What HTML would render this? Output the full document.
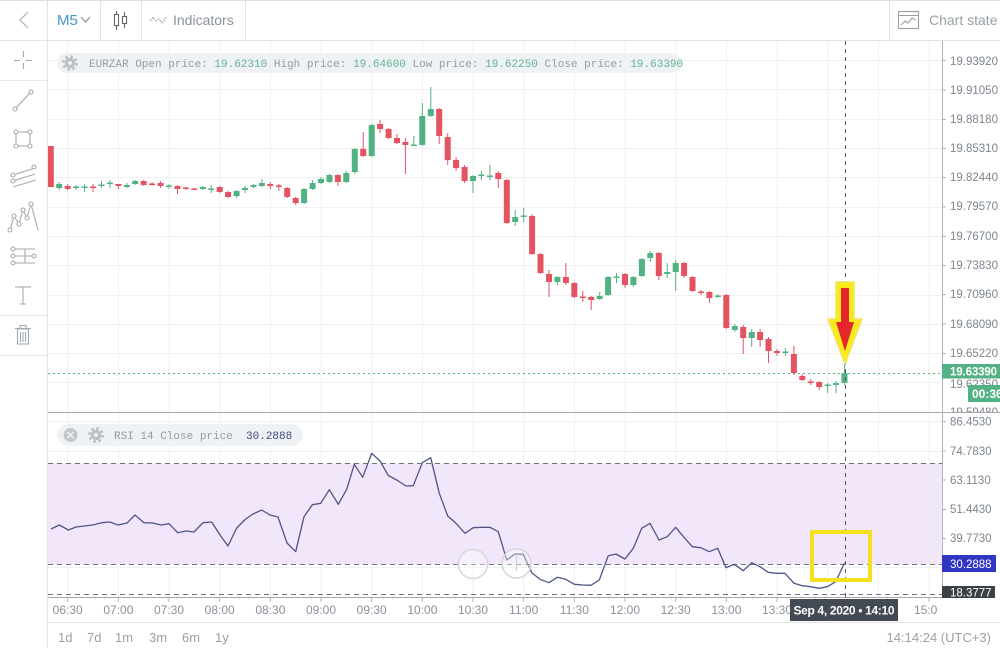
<!DOCTYPE html>
<html><head><meta charset="utf-8"><style>
html,body{margin:0;padding:0;background:#fff;width:1000px;height:648px;overflow:hidden}
svg{display:block}
text{font-family:"Liberation Sans",sans-serif}
.mono{font-family:"Liberation Mono",monospace}
</style></head><body>
<svg width="1000" height="648" viewBox="0 0 1000 648" xmlns="http://www.w3.org/2000/svg">
<defs>
<clipPath id="ca"><rect x="48" y="41" width="894" height="371"/></clipPath>
<clipPath id="cr"><rect x="48" y="413" width="894" height="184"/></clipPath>
<clipPath id="cp"><rect x="943" y="41" width="57" height="371"/></clipPath>
<clipPath id="ct"><rect x="48" y="598" width="889" height="24"/></clipPath>
</defs>
<rect width="1000" height="648" fill="#fff"/>
<!-- top bar -->
<line x1="0" y1="0.5" x2="1000" y2="0.5" stroke="#dcdfe2"/>
<line x1="0" y1="40.5" x2="1000" y2="40.5" stroke="#e1e4e7"/>
<g stroke="#e1e4e7"><line x1="47.5" y1="0" x2="47.5" y2="40"/><line x1="100.5" y1="0" x2="100.5" y2="40"/><line x1="141.5" y1="0" x2="141.5" y2="40"/><line x1="245.5" y1="0" x2="245.5" y2="40"/><line x1="889.5" y1="0" x2="889.5" y2="40"/></g>
<polyline points="28,12 20,20 28,28" fill="none" stroke="#b5babf" stroke-width="1.3"/>
<text x="57" y="25" font-size="15" fill="#3d9bc6">M5</text>
<polyline points="81,17 85.5,22 90,17" fill="none" stroke="#8a9099" stroke-width="1.2"/>
<g fill="none" stroke="#666" stroke-width="1.1"><line x1="116.5" y1="11" x2="116.5" y2="30"/><rect x="114.5" y="14.5" width="4" height="11" fill="#fff"/><line x1="124.5" y1="12" x2="124.5" y2="28"/><rect x="122.5" y="16.5" width="4" height="7" fill="#fff"/></g>
<polyline points="150,21 153,17 156,21 159,19 162,23 166,17" fill="none" stroke="#a9aeb3" stroke-width="1.2" stroke-dasharray="2 1"/>
<text x="173" y="25" font-size="14" fill="#8a9099">Indicators</text>
<g fill="none" stroke="#9aa0a6" stroke-width="1.1"><rect x="898.5" y="11.5" width="20" height="17"/><line x1="898.5" y1="15.5" x2="918.5" y2="15.5"/><polyline points="901,25 905,21 908,23 912,18 916,20"/></g>
<text x="929" y="25" font-size="14" fill="#9aa0a6">Chart state</text>
<!-- left toolbar -->
<line x1="47.5" y1="40" x2="47.5" y2="648" stroke="#e1e4e7"/>
<g stroke="#e6e8eb"><line x1="0" y1="80.5" x2="47" y2="80.5"/><line x1="0" y1="315.5" x2="47" y2="315.5"/><line x1="0" y1="355.5" x2="47" y2="355.5"/></g>
<g fill="none" stroke="#a4aab0" stroke-width="1.1">
<line x1="14" y1="60.5" x2="20" y2="60.5"/><line x1="26" y1="60.5" x2="32" y2="60.5"/><line x1="23.5" y1="51" x2="23.5" y2="57"/><line x1="23.5" y1="63" x2="23.5" y2="69"/>
<line x1="16" y1="108" x2="30" y2="93"/><circle cx="15" cy="109" r="2"/><circle cx="31" cy="92" r="2"/>
<rect x="16" y="132" width="14" height="14"/><circle cx="16" cy="132" r="2" fill="#fff"/><circle cx="30" cy="132" r="2" fill="#fff"/><circle cx="16" cy="146" r="2" fill="#fff"/><circle cx="30" cy="146" r="2" fill="#fff"/>
<line x1="13" y1="175" x2="35" y2="168"/><line x1="13" y1="181" x2="35" y2="174"/><line x1="13" y1="187" x2="36" y2="180"/><circle cx="13" cy="175" r="2" fill="#fff"/><circle cx="13" cy="181" r="2" fill="#fff"/><circle cx="34" cy="167" r="2" fill="#fff"/>
<polyline points="10,230 14,216 19,224 23,210 27,218 31,204 38,230"/><circle cx="10" cy="230" r="2" fill="#fff"/><circle cx="14" cy="216" r="2" fill="#fff"/><circle cx="19" cy="224" r="2" fill="#fff"/><circle cx="23" cy="210" r="2" fill="#fff"/><circle cx="27" cy="218" r="2" fill="#fff"/><circle cx="31" cy="204" r="2" fill="#fff"/>
<line x1="13" y1="249" x2="35" y2="249"/><line x1="13" y1="256" x2="35" y2="256"/><line x1="13" y1="263" x2="35" y2="263"/><circle cx="13" cy="249" r="2" fill="#fff"/><circle cx="13" cy="256" r="2" fill="#fff"/><circle cx="13" cy="263" r="2" fill="#fff"/><circle cx="34" cy="256" r="2" fill="#fff"/><line x1="25" y1="249" x2="25" y2="263"/>
<line x1="15" y1="287" x2="31" y2="287"/><line x1="23" y1="287" x2="23" y2="304"/><line x1="20" y1="304" x2="26" y2="304"/>
<line x1="15" y1="328.5" x2="31" y2="328.5"/><rect x="17.5" y="329" width="11" height="15"/><line x1="20.5" y1="332" x2="20.5" y2="342"/><line x1="23" y1="332" x2="23" y2="342"/><line x1="25.5" y1="332" x2="25.5" y2="342"/><rect x="20" y="325.5" width="6" height="3"/>
</g>
<!-- grid -->
<g stroke="#eef0f2" stroke-width="1">
<path d="M48 60.5H942M48 89.5H942M48 119.5H942M48 148.5H942M48 177.5H942M48 207.5H942M48 236.5H942M48 265.5H942M48 295.5H942M48 324.5H942M48 353.5H942M48 382.5H942"/>
<path d="M48 421.5H942M48 451.5H942M48 480.5H942M48 509.5H942M48 538.5H942M48 567.5H942"/>
<path d="M67.7 41V597M118.4 41V597M169 41V597M219.7 41V597M270.4 41V597M321 41V597M371.7 41V597M422.4 41V597M473 41V597M523.7 41V597M574.4 41V597M625 41V597M675.7 41V597M726.4 41V597M777 41V597M827.7 41V597M878.4 41V597M929 41V597"/>
</g>
<!-- RSI band -->
<rect x="48" y="463.5" width="894" height="101" fill="#f2e6fb"/>
<g stroke="#6f7378" stroke-dasharray="5 4" stroke-width="1"><path d="M48 463.5H942M48 564.5H942M48 594.5H942"/></g>
<!-- current price line -->
<path d="M48 373.5H942" stroke="#53b283" stroke-dasharray="2 3" stroke-width="1"/>
<!-- candles -->
<g clip-path="url(#ca)" fill="none">
<path stroke="#53b283" stroke-width="1" d="M59.2 182V190M76.1 185V190M84.6 184V192M101.5 181V188M109.9 180V188M126.8 183V188M135.2 180V185M169 184V189M202.8 186V190M211.2 185V193M236.6 190V198M245 186V193M253.5 184V188M261.9 179V187M304.1 188V204M312.6 180V190M321 177V184M329.5 174V183M346.3 171V183M354.8 148V174M371.7 124V157M413.9 136V146M422.3 103V146M430.8 87V117M473 175V193M481.4 171V180M489.9 165V180M515.2 210V226M523.7 208V222M557.4 276V285M599.7 292V300M608.1 276V296M616.5 273V283M633.4 276V287M641.9 258V277M650.3 251V262M667.2 263V278M675.7 260V291M717.9 294V298M734.8 324V332M751.7 329V347M785.4 348V356M827.6 383V393M836.1 381V393M844.5 362V385"/>
<path stroke="#53b283" stroke-width="6" d="M59.2 184V188M76.1 186.5V188M84.6 186.5V188M101.5 184.5V186M109.9 182.5V184M126.8 185V187M135.2 181V184M169 185.5V187M202.8 187V189M211.2 188.5V190M236.6 191V196M245 188V190M253.5 185V187M261.9 183V186M304.1 189V203M312.6 183V189M321 179V183M329.5 175V182M346.3 173V182M354.8 149V172M371.7 125V156M413.9 144.5V146M422.3 116V145M430.8 109V116M473 176V181M481.4 174.5V176M489.9 175.5V177M515.2 217V222M523.7 215.5V217M557.4 277V282M599.7 296V299M608.1 277V295M616.5 276.5V278M633.4 277V285M641.9 259V276M650.3 253V258M667.2 272V274M675.7 263V272M717.9 295.5V297M734.8 326V330M751.7 332V338M785.4 351.5V353M827.6 384.5V386M836.1 383V385M844.5 373V383"/>
<path stroke="#e35361" stroke-width="1" d="M50.8 146V187M67.7 184V190M93 184V192M118.4 184V189M143.7 180V186M152.1 182V186M160.6 181V188M177.5 185V194M185.9 187V190M194.3 188V190M219.7 186V193M228.1 191V198M270.3 182V189M278.8 184V191M287.2 187V198M295.7 197V205M337.9 174V186M363.2 132V157M380.1 120V133M388.6 128V139M397 134V144M405.4 138V174M439.2 108V144M447.7 133V165M456.1 157V171M464.6 165V183M498.3 171V188M506.8 179V224M532.1 214V255M540.5 253V274M549 270V297M565.9 263V285M574.3 282V298M582.8 291V302M591.2 296V310M625 273V288M658.8 252V280M684.1 262V278M692.5 276V292M701 290V295M709.4 291V303M726.3 294V329M743.2 325V354M760.1 329V347M768.5 337V363M777 349V356M793.9 346V375M802.3 374V381M810.8 379V385M819.2 381V390"/>
<path stroke="#e35361" stroke-width="6" d="M50.8 146V187M67.7 186V189M93 186.5V188M118.4 184V186M143.7 181V185M152.1 183.5V185M160.6 183V186M177.5 186V189M185.9 187.5V189M194.3 188.5V190M219.7 187V192M228.1 192V197M270.3 184V186M278.8 185.5V187M287.2 188V197M295.7 198V203M337.9 175V182M363.2 149V156M380.1 124V129M388.6 129V138M397 138V143M405.4 142V145M439.2 109V136M447.7 137V160M456.1 160V168M464.6 167V181M498.3 173V179M506.8 180V223M532.1 216V254M540.5 254V273M549 274V282M565.9 277V283M574.3 283V297M582.8 296.5V298M591.2 297V300M625 274V285M658.8 253V276M684.1 263V276M692.5 277V291M701 291.5V293M709.4 292V298M726.3 295V328M743.2 327V338M760.1 332V340M768.5 339V351M777 351V353M793.9 354V373M802.3 376V380M810.8 381.5V383M819.2 382V387"/>
</g>
<!-- RSI line -->
<g clip-path="url(#cr)">
<polyline fill="none" stroke="#4f5586" stroke-width="1.3" stroke-linejoin="round" points="51,529 59.3,525 68.3,530 76,527 84.5,526 92.7,525 101.7,522.7 110,522 118,525 127,523 135,515 144,522.7 152.7,523 161,525 169,523.7 177.7,532.7 186,531 194,532 203,522.7 211.7,522 220,535 228,546 236.7,528 245.7,519 253,514 261.7,510 270,515 278,517 287,543 295.7,551.7 304,516.7 312.3,504.7 320.7,503.3 329.3,489.7 338.3,504.3 346.7,489.3 354.3,464.3 362.7,477.3 371.7,453.3 380,461 388.3,475.5 396.7,480 406,486 413.3,485.7 422.3,462.7 430.7,457.7 439.3,493.3 447.7,516 456,523.3 465,533.3 473.3,527.7 481.7,527.3 490,527.3 498.3,531.7 506.7,560 515,554 523.3,554.3 531.7,572.7 540,579.3 549,582.7 557.3,577.3 565.7,579.3 574.3,584.3 582.7,585 591,585.3 599.3,580 608.3,555.7 616,554 625,559 633.3,548.3 641.7,528.3 650,523.3 659,540 667.3,536.7 675.7,527.3 684,537.3 692.3,546.7 700.7,547.7 709.3,551.7 717.7,548.3 726,567.7 734.3,564.3 743.3,570.7 751.7,562.7 760,566.7 768.3,572.3 776.7,573.3 785,573.3 794,583.3 802.3,585.7 810.7,586.7 819,588.3 827.3,586.7 835.7,581.7 844.5,563"/>
<circle cx="473" cy="564" r="14.5" fill="rgba(255,255,255,0.35)" stroke="#d6d6da" stroke-width="1.5"/>
<circle cx="516.5" cy="563.5" r="14.5" fill="rgba(255,255,255,0.35)" stroke="#d6d6da" stroke-width="1.5"/>
<line x1="516.5" y1="556" x2="516.5" y2="571" stroke="#cfcfd3" stroke-width="1.2"/>
</g>
<!-- crosshair -->
<line x1="845.5" y1="41" x2="845.5" y2="598" stroke="#555a60" stroke-dasharray="4 4" stroke-width="1"/>
<!-- pane separators & axes -->
<line x1="48" y1="412.5" x2="1000" y2="412.5" stroke="#a3a8ad" stroke-width="1"/>
<line x1="942.5" y1="41" x2="942.5" y2="598" stroke="#b0b4b8" stroke-width="1"/>
<line x1="48" y1="597.5" x2="942" y2="597.5" stroke="#a3a8ad" stroke-width="1"/>
<line x1="48" y1="622.5" x2="1000" y2="622.5" stroke="#e1e4e7" stroke-width="1"/>
<g stroke="#b0b4b8"><path d="M942 60.5h4M942 90h4M942 119.5h4M942 148.5h4M942 177.5h4M942 207h4M942 236.5h4M942 265.5h4M942 294.5h4M942 324h4M942 353.5h4M942 421.5h4M942 451h4M942 480h4M942 509.5h4M942 538.5h4M942 563.5h4M942 592h4"/>
<path d="M67.7 598v4M118.4 598v4M169 598v4M219.7 598v4M270.4 598v4M321 598v4M371.7 598v4M422.4 598v4M473 598v4M523.7 598v4M574.4 598v4M625 598v4M675.7 598v4M726.4 598v4M777 598v4M929 598v4"/></g>
<!-- price labels -->
<g font-size="11.5" fill="#7d858d">
<text x="950" y="65">19.93920</text><text x="950" y="94">19.91050</text><text x="950" y="123">19.88180</text><text x="950" y="152">19.85310</text><text x="950" y="181">19.82440</text><text x="950" y="210">19.79570</text><text x="950" y="240">19.76700</text><text x="950" y="269">19.73830</text><text x="950" y="298">19.70960</text><text x="950" y="328">19.68090</text><text x="950" y="357">19.65220</text>
<text x="950" y="388">19.62350</text>
<g clip-path="url(#cp)"><text x="950" y="416">19.59480</text></g>
<text x="950" y="425.5">86.4530</text><text x="950" y="455">74.7830</text><text x="950" y="484">63.1130</text><text x="950" y="513">51.4430</text><text x="950" y="542">39.7730</text>
</g>
<rect x="942" y="364" width="58" height="14.5" fill="#53b283"/>
<text x="950" y="375.5" font-size="11.5" font-weight="bold" fill="#fff" textLength="47">19.63390</text>
<rect x="968" y="385" width="32" height="17" fill="#53b283"/>
<text x="972" y="398" font-size="12" font-weight="bold" fill="#fff">00:36</text>
<rect x="942" y="555" width="54" height="17" fill="#3135c3"/>
<text x="950" y="568" font-size="11.5" fill="#fff">30.2888</text>
<rect x="942" y="586" width="53" height="12" fill="#3b4047"/>
<text x="950" y="596.5" font-size="11.5" fill="#fff">18.3777</text>
<!-- time labels -->
<g font-size="12" fill="#8a9099" text-anchor="middle" clip-path="url(#ct)">
<text x="67.7" y="614">06:30</text><text x="118.4" y="614">07:00</text><text x="169" y="614">07:30</text><text x="219.7" y="614">08:00</text><text x="270.4" y="614">08:30</text><text x="321" y="614">09:00</text><text x="371.7" y="614">09:30</text><text x="422.4" y="614">10:00</text><text x="473" y="614">10:30</text><text x="523.7" y="614">11:00</text><text x="574.4" y="614">11:30</text><text x="625" y="614">12:00</text><text x="675.7" y="614">12:30</text><text x="726.4" y="614">13:00</text><text x="777" y="614">13:30</text><text x="929" y="614">15:00</text>
</g>
<rect x="790" y="599" width="108" height="22" fill="#434a54"/>
<text x="844" y="614.5" font-size="12" fill="#fff" text-anchor="middle" textLength="101" font-weight="bold">Sep 4, 2020 • 14:10</text>
<!-- legends -->
<rect x="57" y="53" width="624" height="20" rx="10" fill="#eff2f5"/>
<g transform="translate(70,63)"><circle r="5.2" fill="#b9bfc5"/><circle r="6.6" fill="none" stroke="#b9bfc5" stroke-width="2.6" stroke-dasharray="2.6 2.6"/><circle r="2" fill="#eff2f5"/></g>
<text class="mono" x="89" y="67" font-size="11" fill="#959ca3" xml:space="preserve">EURZAR Open price: <tspan fill="#66b393">19.62310</tspan> High price: <tspan fill="#66b393">19.64600</tspan> Low price: <tspan fill="#66b393">19.62250</tspan> Close price: <tspan fill="#66b393">19.63390</tspan></text>
<rect x="57" y="424" width="246" height="22" rx="11" fill="#eff2f5"/>
<circle cx="70.5" cy="435" r="7" fill="#c2c7cc"/>
<path d="M67.5 432l6 6M73.5 432l-6 6" stroke="#eff2f5" stroke-width="1.5"/>
<g transform="translate(96,435)"><circle r="5.2" fill="#b9bfc5"/><circle r="6.6" fill="none" stroke="#b9bfc5" stroke-width="2.6" stroke-dasharray="2.6 2.6"/><circle r="2" fill="#eff2f5"/></g>
<text class="mono" x="114" y="439" font-size="11" fill="#959ca3" xml:space="preserve">RSI 14 Close price  <tspan fill="#3f4c7d">30.2888</tspan></text>
<!-- annotations -->
<polygon points="836,282 854,282 854,319 862,319 845,364 828,319 836,319" fill="#f8ea1c" stroke="#f3e35a" stroke-width="1.5" stroke-linejoin="round"/>
<polygon points="841,288 849,288 849,322 854,322 845,351 836,322 841,322" fill="#e5262b"/>
<rect x="812" y="532" width="58" height="48" fill="none" stroke="#f5e11b" stroke-width="4"/>
<!-- bottom bar -->
<g font-size="13" fill="#9aa0a6">
<text x="58" y="642">1d</text><text x="87" y="642">7d</text><text x="115" y="642">1m</text><text x="149" y="642">3m</text><text x="182" y="642">6m</text><text x="215" y="642">1y</text>
<text x="991" y="642" text-anchor="end">14:14:24 (UTC+3)</text>
</g>
</svg>
</body></html>
